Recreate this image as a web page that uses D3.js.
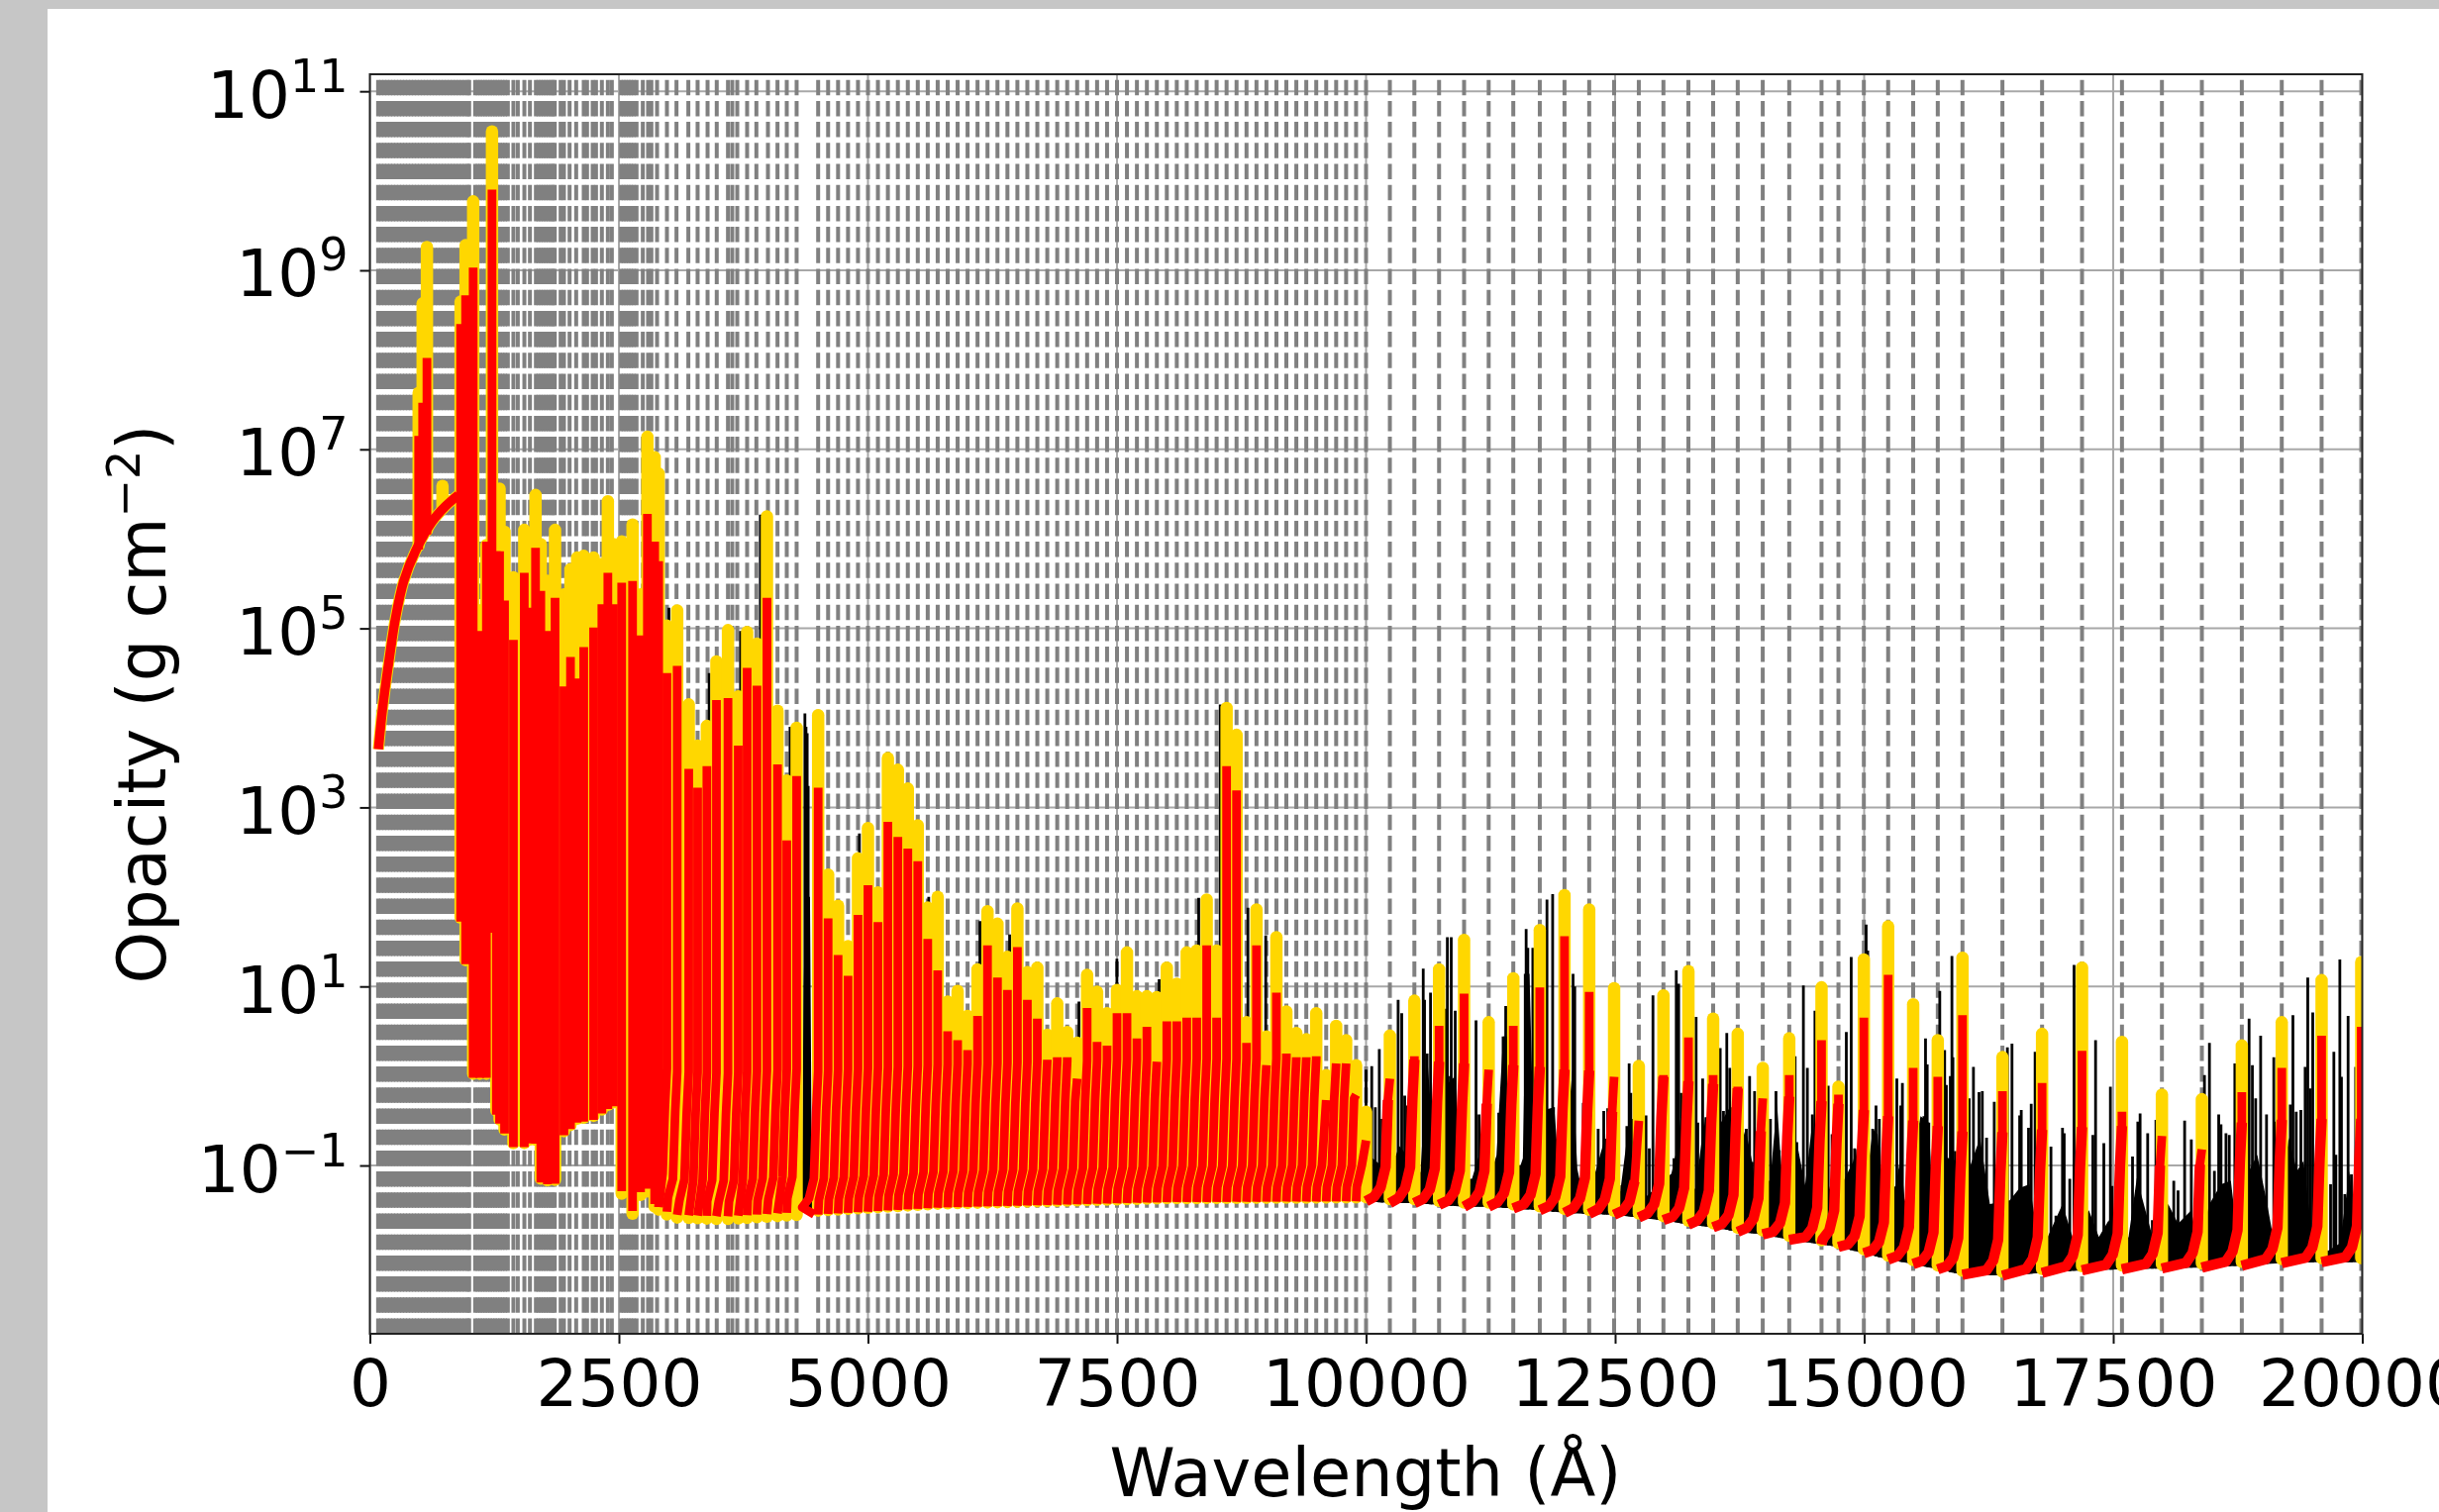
<!DOCTYPE html>
<html>
<head>
<meta charset="utf-8">
<script src="https://cdn.jsdelivr.net/npm/d3@7"></script>
<style>html,body{margin:0;padding:0;background:#fff;overflow:hidden}svg{display:block;filter:blur(0.7px)}</style>
</head>
<body>
<script>
// ---------- tick labels ----------
const xTickValues = [0,2500,5000,7500,10000,12500,15000,17500,20000];
const yTickExponents = [-1,1,3,5,7,9,11];
const xAxisTitle = "Wavelength (Å)";
const yAxisTitle = "Opacity (g cm";
const yAxisTitleSup = "−2";

// ---------- transition wavelengths (grey dashed lines), Å ----------
const lineLambda = [83,113,143,173,203,233,263,293,323,353,383,413,443,473,503,533,563,593,623,653,683,713,743,773,803,833,863,893,923,953,983,997,
1057,1082,1107,1132,1157,1182,1207,1232,1257,1282,1307,1332,1357,1385,1441,1485,1551,1607,1667,1692,1717,1742,1767,1792,1817,1837,1856,1915,1948,2005,2071,2147,2180,2237,2270,2329,2389,2429,
2522,2547,2572,2597,2622,2647,2677,2740,2793,2826,2883,2982,3078,3197,3290,3390,3482,3595,3638,3688,3787,3880,3996,4092,4185,4284,
4500,4600,4700,4800,4900,5000,5100,5200,5300,5400,5500,5600,5700,5800,5900,6000,6100,6200,6300,6400,6500,6600,6700,6800,6900,7000,7100,7200,7300,7400,7500,7600,7700,7800,7900,8000,8100,8200,8300,8400,8500,8600,8700,8800,8900,9000,9100,9200,9300,9400,9500,9600,9700,9800,9900,10000,
10239,10485,10733,10984,11231,11478,11744,11992,12240,12490,12738,12985,13236,13484,13731,13982,14248,14572,14742,14997,15241,15492,15739,15987,16388,16786,17187,17588,17989,18390,18791,19192,19592,19990];

// ---------- peaks: wavelength, and log10 opacity of the gold and red series ----------
const peakLambda = [490,530,573,729,911,961,1037,1103,1170,1226,1270,1302,1352,1441,1550,1607,1663,1716,1782,1859,1948,2014,2081,2147,2246,2329,2389,2445,2528,2637,2717,2786,2859,2899,
2982,3085,3201,3290,3383,3479,3595,3698,3787,3886,3986,4092,4185,4284,
4500,4600,4700,4800,4900,5000,5100,5200,5300,5400,5500,5600,5700,5800,5900,6000,6100,6200,6300,6400,6500,6600,6700,6800,6900,7000,7100,7200,7300,7400,7500,7600,7700,7800,7900,8000,8100,8200,8300,8400,8500,8600,8700,8800,8900,9000,9100,9200,9300,9400,9500,9600,9700,9800,9900,10000,
10239,10485,10733,10984,11231,11478,11744,11992,12240,12490,12738,12985,13236,13484,13731,13982,14248,14572,14742,14997,15241,15492,15739,15987,16388,16786,17187,17588,17989,18390,18791,19192,19592,19990];
const goldTop = [7.7,8.7,9.33,6.66,8.72,9.35,9.84,5.27,6.0,10.62,6.3,6.63,6.15,5.64,6.17,5.6,6.56,6.01,5.6,6.17,5.45,5.73,5.86,5.88,5.86,5.79,6.49,6.01,6.04,6.23,5.45,7.21,6.98,6.8,
5.1,5.27,4.22,3.76,3.98,4.7,5.05,4.31,5.03,4.9,6.32,4.15,3.37,3.96,
4.1,2.32,1.97,1.52,2.5,2.84,2.12,3.62,3.49,3.28,2.87,1.95,2.07,.9,1.02,.74,1.26,1.91,1.77,1.4,1.94,1.23,1.28,.53,.88,.56,.44,1.2,1.01,.77,1.03,1.45,.96,.96,.95,1.28,1.1,1.45,1.47,2.04,1.47,4.18,3.88,.67,1.93,.51,1.62,.79,.55,.48,.77,.08,.63,.47,.19,-.33,
.52,.91,1.26,1.59,.67,1.16,1.7,2.09,1.93,1.05,.18,.97,1.24,.71,.54,.16,.49,1.06,-.05,1.37,1.74,.87,.47,1.39,.28,.54,1.28,.45,-.14,-.19,.41,.67,1.14,1.34];
const redTop = [7.15,7.52,8.02,6.3,8.4,8.72,9.03,4.97,5.97,9.9,5.86,5.86,5.31,4.87,5.62,5.23,5.9,5.42,4.97,5.34,4.35,4.68,4.44,4.79,5.01,5.27,5.62,5.27,5.51,5.53,4.92,6.28,5.97,5.75,
4.5,4.58,3.43,3.22,3.46,4.2,4.22,3.69,4.56,4.36,5.34,3.48,2.63,3.35,
3.22,1.76,1.35,1.12,1.8,2.13,1.72,2.84,2.67,2.54,2.4,1.53,1.18,.5,.4,.29,.67,1.46,1.1,.96,1.44,.85,.64,.18,.21,.21,-.03,.76,.38,.34,.7,.7,.42,.55,.16,.61,.61,.65,.65,1.46,.65,3.46,3.19,.37,1.46,.12,.93,.25,.21,.21,.22,-.27,.14,.14,-.21,-.72,
-.03,.22,.56,.92,.07,.56,.99,1.56,.94,-.01,-.5,.01,.43,.01,-.12,-.25,.01,.4,-.21,.65,1.13,.09,-.01,.68,-.17,-.08,.28,-.4,-.67,-.82,-.18,.09,.45,.55];

// ---------- continuum floor of the opacity: wavelength, log10 opacity ----------
const floorLambda = [480,530,573,729,880,903,961,1037,1170,1200,1226,1250,1321,1473,1625,1670,1682,1815,1925,1940,2082,2234,2386,2462,2481,2538,2652,2728,2805,2862,3033,3565,4326,4478,5726,8000,10000,10239,10485,10733,10984,11231,11478,11744,11992,12240,12490,12738,12985,13236,13484,13731,13982,14248,14572,14742,14997,15241,15492,15739,15987,16388,16786,17187,17588,17989,18390,18791,19192,19592,19990];
const floorLog = [5.85,6.0,6.05,6.3,6.4,1.8,1.25,-.02,-.02,1.6,1.6,-.37,-.59,-.85,-.74,-.76,-1.18,-1.22,-1.18,-.67,-.52,-.5,-.37,-.33,-.89,-1.37,-1.53,-1.26,-1.26,-1.44,-1.55,-1.57,-1.52,-1.55,-1.47,-1.41,-1.4,-1.42,-1.42,-1.44,-1.46,-1.46,-1.48,-1.5,-1.53,-1.54,-1.55,-1.58,-1.61,-1.66,-1.69,-1.74,-1.77,-1.83,-1.88,-1.91,-1.98,-2.05,-2.1,-2.16,-2.22,-2.23,-2.2,-2.17,-2.16,-2.15,-2.14,-2.12,-2.09,-2.08,-2.08];

// ---------- rise of the red series ahead of each peak: Å before the peak, dex above the floor ----------
const wingBefore = [160,93,43,20,0];
const wingRise = [.055,.165,.4,1.15,1.6];

// ---------- smooth red continuum at the far ultraviolet ----------
const uvLambda = [86,126,192,258,341,457,623,755,888];
const uvLog = [3.65,4.09,4.64,5.12,5.53,5.86,6.19,6.36,6.49];

// ---------- black spectrum: individual lines [Å, log10 opacity] ----------
const blackLines = [[3002,5.23],[3406,4.5],[3721,4.97],[3920,6.27],[4218,3.9],[4367,4.05],[4378,3.9],[4390,3.83],[4400,3.24],[4914,2.71],[5610,2.0],[6124,1.73],[6422,1.58],[7118,.83],[7499,1.31],[7923,1.08],[8320,1.99],[8536,4.15],[8814,1.88],[8993,1.57],
[10000,.07],[10057,.11],[10093,-.35],[10133,.3],[10160,-.48],[10322,.85],[10358,.7],[10388,-.22],[10415,-.33],[10574,1.2],[10587,.85],[10613,.25],[10647,.93],[10663,-.56],[10802,.75],[10816,1.55],[10845,0],[10855,1.55],[10895,.73],[11054,-1.15],[11104,.62],[11134,-.43],[11160,-.85],[11332,-.41],[11376,.44],[11402,.78],[11548,-1],[11598,1.14],[11607,1.64],[11624,1.43],[11674,1.43],[11816,1.97],[11823,-.37],[11873,2.03],[11882,-.35],[12078,1.14],[12095,1],[12181,-.3],[12330,-.59],[12386,-.39],[12409,-.7],[12426,-.36],[12568,-1.22],[12618,-.56],[12641,.14],[12658,-.19],[12668,-.48],[12810,-.44],[12843,-.81],[12880,.9],[12922,-.98],
[13091,-.92],[13114,1.18],[13138,1.03],[13164,-.19],[13313,.66],[13330,-.52],[13379,-.03],[13413,-.46],[13555,.31],[13588,-.39],[13621,.48],[13651,.09],[13661,-.35],[13817,-.59],[13850,0],[13876,-.96],[13900,-.17],[14059,-.48],[14115,-.17],[14148,-.83],[14307,.22],[14324,-.74],[14390,1.01],[14430,.09],[14480,-.43],[14506,.73],[14539,-.3],[14639,-.11],[14678,-.65],[14821,.49],[14870,1.33],[14904,-.81],[15020,1.69],[15036,1.4],[15086,-.59],[15119,-.33],[15152,-.48],[15328,-.03],[15367,-.33],[15384,-.08],[15600,-.45],[15616,.42],[15633,.13],[15649,-.52],
[15759,.95],[15808,.29],[15825,-.1],[15865,0],[15881,1.34],[15891,.21],[15915,-.84],[16054,-.25],[16097,.1],[16153,-.18],[16186,-.17],[16229,-.69],[16306,-.29],[16438,.32],[16484,.36],[16561,-.44],[16577,-.38],[16650,-.58],[16677,-.31],[16716,.27],[16875,-.79],[16925,-1.56],[16991,-.58],[17008,-.64],[17064,-1.15],[17107,1.24],[17296,-.66],[17323,.4],[17406,-.75],[17472,-.12],[17488,-1.23],[17694,-.9],[17747,-.51],[17770,-.42],[17846,-.64],[17893,-1.61],[17929,-.49],[18108,-1.17],[18151,-1.28],[18217,-.5],[18284,-.71],[18416,.01],[18466,.37],[18516,-1.06],[18559,-.43],[18582,-.54],[18632,-.64],[18665,-.66],[18721,.14],[18864,.64],[18897,.12],[18930,-.25],[18980,.45],[19039,-.43],[19112,.21],[19129,-.51],[19278,-.32],[19304,.68],[19337,-.4],[19384,-.38],[19427,.1],[19453,1.1],[19477,-.14],[19503,.71],[19682,-1.21],[19715,.27],[19735,-.88],[19775,1.3],[19791,-.01],[19825,-1.32],[19858,.67],[19891,-1.1],[19934,.1]];

// ---------- black spectrum: solid mass top [Å, log10 opacity] ----------
const blackMassLow = [[4335,-1.5],[4355,1.0],[4372,2.0],[4418,2.0],[4438,-1.4]];
const blackMass = [[10067,-.92],[10150,-1.0],[10299,-.89],[10332,-.78],[10415,-.89],[10465,-1.2],[10547,-1.07],[10613,.24],[10663,-.56],[10700,-1.2],[10796,-.11],[10895,0],[10950,-1.2],[11044,-1.22],[11143,-.85],[11190,-1.3],[11309,-.89],[11376,.44],[11425,.44],[11460,-1.3],[11574,-.92],[11607,1.14],[11641,1.14],[11690,-1.1],[11823,-.37],[11889,-.35],[11960,-1.4],[12071,.07],[12121,-1.04],[12190,-1.4],[12303,-1.07],[12386,-.74],[12436,-1.18],[12552,-1.29],[12635,-.56],[12684,-.48],[12760,-1.4],
[13065,-1.09],[13131,-.76],[13181,-.19],[13210,-1.4],[13313,-1.24],[13396,-.46],[13445,-1.03],[13562,-.52],[13651,-.35],[13694,-1.03],[13810,-.59],[13876,-.96],[13926,-1.37],[14059,-1.15],[14125,-.3],[14158,-.85],[14210,-1.6],[14324,-.74],[14407,-1.22],[14489,-.43],[14540,-1.7],[14645,-1.22],[14688,-1.4],[14821,-1.11],[14887,-.96],[14920,-.81],[14970,-1.7],[15086,-.59],[15135,-.65],[15185,-1.4],[15318,-1.22],[15367,-.89],[15407,-1.4],[15566,-.45],[15649,-.52],[15700,-1.7],
[15800,-.9],[15930,-.95],[16047,-1.06],[16163,-.69],[16262,-1.43],[16461,-1.39],[16561,-1.25],[16660,-1.21],[16743,-1.8],[16842,-1.8],[16991,-1.43],[17091,-1.8],[17256,-1.5],[17356,-1.8],[17455,-1.61],[17538,-1.95],[17654,-1.8],[17737,-1.14],[17886,-1.76],[18052,-1.43],[18151,-1.65],[18284,-1.5],[18350,-1.91],[18466,-1.43],[18582,-1.21],[18681,-1.17],[18747,-1.8],[18864,-1.06],[18946,-.88],[19046,-1.43],[19129,-1.95],[19261,-.69],[19344,-1.06],[19410,-.95],[19510,-1.91],[19659,-1.95],[19775,-1.87],[19874,-1.06],[19924,-1.8]];

// ---------- drawing ----------
const W = 2463, H = 1527;
const GREY_BG = "#c6c6c6", DASH = "#808080", GRID = "#a8a8a8", GOLD = "#ffd700", RED = "#ff0000";
const plot = {left:373.5, right:2385.5, top:75, bottom:1347};
const FONT = "'DejaVu Sans', sans-serif";

const x = d3.scaleLinear().domain([0,20000]).range([plot.left,plot.right]);
const y = d3.scaleLog().domain([Math.pow(10,-2.88),Math.pow(10,11.19)]).range([plot.bottom,plot.top]);
const Y = v => y(Math.pow(10,v));
const floorAt = d3.scaleLinear().domain(floorLambda).range(floorLog).clamp(true);

const svg = d3.select("body").append("svg").attr("width",W).attr("height",H).attr("viewBox",`0 0 ${W} ${H}`);
svg.append("rect").attr("width",W).attr("height",H).attr("fill",GREY_BG);
svg.append("rect").attr("x",48).attr("y",9).attr("width",W-48).attr("height",H-9).attr("fill","#fff");
svg.append("defs").append("clipPath").attr("id","plotClip").append("rect")
  .attr("x",plot.left).attr("y",plot.top).attr("width",plot.right-plot.left).attr("height",plot.bottom-plot.top);

const g = svg.append("g").attr("clip-path","url(#plotClip)");

// grid
g.append("g").selectAll("line").data(xTickValues).join("line")
  .attr("x1",d=>x(d)).attr("x2",d=>x(d)).attr("y1",plot.top).attr("y2",plot.bottom)
  .attr("stroke",GRID).attr("stroke-width",2);
g.append("g").selectAll("line").data(yTickExponents).join("line")
  .attr("x1",plot.left).attr("x2",plot.right).attr("y1",d=>Y(d)).attr("y2",d=>Y(d))
  .attr("stroke",GRID).attr("stroke-width",2);

// dashed transition lines (dashes start from the bottom of the axes)
g.append("g").selectAll("line").data(lineLambda).join("line")
  .attr("x1",d=>x(d)).attr("x2",d=>x(d)).attr("y1",plot.bottom).attr("y2",plot.top)
  .attr("stroke",DASH).attr("stroke-width",4).attr("stroke-dasharray","15.5,5.7");

// black spectrum
const massArea = d3.area().x(d=>x(d[0])).y0(d=>Y(floorAt(d[0]))).y1(d=>Y(d[1]));
g.append("path").attr("d",massArea(blackMassLow)).attr("fill","#000");
g.append("path").attr("d",massArea(blackMass)).attr("fill","#000");
g.append("g").selectAll("line").data(blackLines).join("line")
  .attr("x1",d=>x(d[0])).attr("x2",d=>x(d[0]))
  .attr("y1",d=>Y(floorAt(d[0]))).attr("y2",d=>Y(d[1]))
  .attr("stroke","#000").attr("stroke-width",2.8);

// gold series
const GOLD_W = 12.5, RED_W = 8.8, RED_BASE_W = 10.5;
const lineGen = d3.line().x(d=>x(d[0])).y(d=>Y(d[1])).curve(d3.curveLinear);
const curveGen = d3.line().x(d=>x(d[0])).y(d=>Y(d[1])).curve(d3.curveCatmullRom);
const uv = uvLambda.map((l,i)=>[l,uvLog[i]]);
g.append("path").attr("d",curveGen(uv)).attr("fill","none").attr("stroke",GOLD).attr("stroke-width",RED_W+2.6).attr("stroke-linejoin","round");
g.append("g").selectAll("line").data(peakLambda).join("line")
  .attr("x1",d=>x(d)).attr("x2",d=>x(d))
  .attr("y1",d=>d < 2500 ? Y(floorAt(d))-4 : d < 4400 ? Y(floorAt(d)-0.03) : Y(floorAt(d))-4)
  .attr("y2",(d,i)=>Y(goldTop[i])+GOLD_W/2)
  .attr("stroke",GOLD).attr("stroke-width",GOLD_W).attr("stroke-linecap","round");

// red series: one stroke per peak, along the floor, up the wing, up to the peak
const redSegments = peakLambda.map((l,i)=>{
  const top = redTop[i], base = floorAt(l);
  if (l < 2900 || i === 0) return [[l,base],[l,top]];
  const prev = peakLambda[i-1], gap = l - prev;
  const pts = [];
  if (l <= 10000) {
    const start = gap > 150 ? l-40 : prev;
    pts.push([start, floorAt(start)]);
  } else {
    pts.push([prev, floorAt(prev)]);
  }
  wingBefore.forEach((b,k)=>{
    const at = l-b;
    if (b < gap && base + wingRise[k] < top) pts.push([at, floorAt(at)+wingRise[k]]);
  });
  pts.push([l,top]);
  return pts;
});
g.append("path").attr("d",curveGen(uv)).attr("fill","none").attr("stroke",RED).attr("stroke-width",RED_W+0.6).attr("stroke-linejoin","round");
g.append("g").selectAll("path").data(redSegments).join("path")
  .attr("d",lineGen).attr("fill","none").attr("stroke",RED)
  .attr("stroke-width",RED_W).attr("stroke-linejoin","round");
// the long-wavelength continuum runs a little heavier than the spikes
g.append("g").selectAll("path").data(redSegments.filter(s=>s.length>2 && s[s.length-1][0]>10000)).join("path")
  .attr("d",s=>lineGen(s.slice(0,-1))).attr("fill","none").attr("stroke",RED)
  .attr("stroke-width",RED_BASE_W).attr("stroke-linejoin","round");

// axes
const axisX = d3.axisBottom(x).tickValues(xTickValues).tickFormat(d3.format("d")).tickSize(10).tickPadding(16);
const gx = svg.append("g").attr("transform",`translate(0,${plot.bottom})`).call(axisX);
gx.select(".domain").remove();
gx.selectAll("line").attr("stroke","#111").attr("stroke-width",2);
gx.selectAll("text").attr("font-family",FONT).attr("font-size",66).attr("fill","#000");

const axisY = d3.axisLeft(y).tickValues(yTickExponents.map(e=>Math.pow(10,e))).tickSize(10).tickPadding(12).tickFormat("");
const gy = svg.append("g").attr("transform",`translate(${plot.left},0)`).call(axisY);
gy.select(".domain").remove();
gy.selectAll("line").attr("stroke","#111").attr("stroke-width",2);
gy.selectAll("text").each(function(d){
  const t = d3.select(this).attr("font-family",FONT).attr("font-size",66).attr("fill","#000").attr("dy",null).attr("y",26);
  const e = Math.round(Math.log10(d));
  t.text(null);
  t.append("tspan").text("10");
  t.append("tspan").attr("font-size",46).attr("dy",-26).text(e<0?"−"+(-e):String(e));
});

// frame
svg.append("rect").attr("x",plot.left).attr("y",plot.top).attr("width",plot.right-plot.left).attr("height",plot.bottom-plot.top)
  .attr("fill","none").attr("stroke","#222").attr("stroke-width",2);

// titles
svg.append("text").attr("x",1379).attr("y",1511).attr("text-anchor","middle")
  .attr("font-family",FONT).attr("font-size",67).attr("fill","#000").text(xAxisTitle);
const yt = svg.append("text").attr("transform","translate(167,711) rotate(-90)").attr("text-anchor","middle")
  .attr("font-family",FONT).attr("font-size",67).attr("fill","#000");
yt.append("tspan").text(yAxisTitle);
yt.append("tspan").attr("font-size",46).attr("dy",-26).text(yAxisTitleSup);
yt.append("tspan").attr("dy",26).text(")");
</script>
</body>
</html>
